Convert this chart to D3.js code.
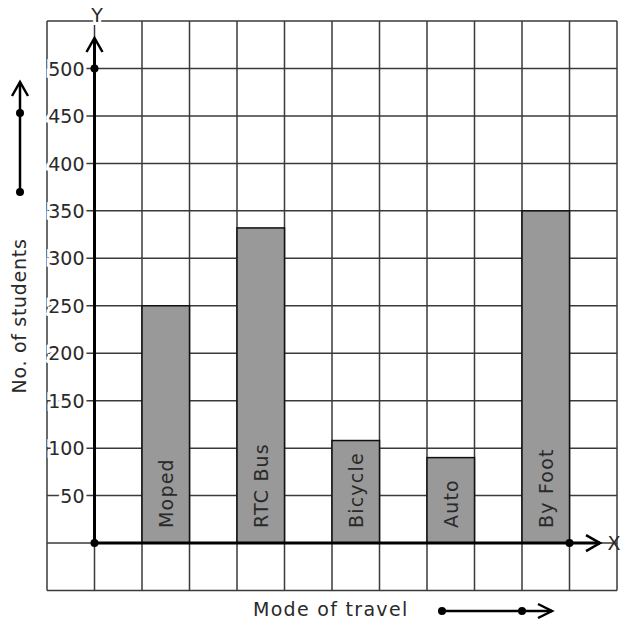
<!DOCTYPE html>
<html><head><meta charset="utf-8">
<script src="https://cdn.jsdelivr.net/npm/d3@7"></script>
<style>body{margin:0;background:#fff}svg{display:block}</style>
</head><body>
<svg id="c" width="621" height="624"></svg>
<script>
const categories = ["Moped", "RTC Bus", "Bicycle", "Auto", "By Foot"];
const students = [250, 332, 108, 90, 350];
const yTicks = [50, 100, 150, 200, 250, 300, 350, 400, 450, 500];
const xTitle = "Mode of travel";
const yTitle = "No. of students";

const svg = d3.select("#c");
const font = "DejaVu Sans, sans-serif";

const y = d3.scaleLinear().domain([-50, 550]).range([590.5, 21]);
const gx = d3.scaleLinear().domain([-1, 11]).range([47, 617]);
const x = d3.scaleBand().domain(categories).range([gx(1), gx(10)]).paddingInner(0.5).paddingOuter(0);

// grid
const gridV = d3.range(-1, 12);
const gridH = d3.range(-50, 551, 50);
svg.append("g").selectAll("line").data(gridV).join("line")
  .attr("x1", d => gx(d)).attr("x2", d => gx(d))
  .attr("y1", y(550)).attr("y2", y(-50))
  .attr("stroke", "#3a3a3a").attr("stroke-width", 1.5);
svg.append("g").selectAll("line").data(gridH).join("line")
  .attr("x1", gx(-1)).attr("x2", gx(11))
  .attr("y1", d => y(d)).attr("y2", d => y(d))
  .attr("stroke", "#3a3a3a").attr("stroke-width", 1.5);

// bars
svg.append("g").selectAll("rect").data(categories).join("rect")
  .attr("x", d => x(d)).attr("width", x.bandwidth())
  .attr("y", (d, i) => y(students[i])).attr("height", (d, i) => y(0) - y(students[i]))
  .attr("fill", "#999999").attr("stroke", "#111").attr("stroke-width", 1.5);

// bar labels
svg.append("g").selectAll("text").data(categories).join("text")
  .attr("transform", d => `translate(${x(d) + x.bandwidth() / 2 + 7},${y(0) - 15}) rotate(-90)`)
  .attr("font-family", font).attr("font-size", 19).attr("letter-spacing", 1.2).attr("fill", "#2a2a2a")
  .text(d => d);

// axes
const yAxis = d3.axisLeft(y).tickValues(yTicks).tickSize(0).tickPadding(10);
const ga = svg.append("g").attr("transform", `translate(${gx(0)},0)`).call(yAxis);
ga.select(".domain").remove();
ga.selectAll("text").attr("font-family", font).attr("font-size", 19).attr("fill", "#2a2a2a")
  .attr("stroke", "#fff").attr("stroke-width", 6).attr("paint-order", "stroke").attr("dy", "0.35em");

// y axis line with arrow
svg.append("line").attr("x1", gx(0)).attr("x2", gx(0)).attr("y1", y(0)).attr("y2", 38)
  .attr("stroke", "#000").attr("stroke-width", 3);
svg.append("path").attr("d", `M${gx(0) - 8},${52} L${gx(0)},${38} L${gx(0) + 8},${52}`)
  .attr("fill", "none").attr("stroke", "#000").attr("stroke-width", 2.5);
// x axis line with arrow
svg.append("line").attr("x1", gx(0)).attr("x2", 600).attr("y1", y(0)).attr("y2", y(0))
  .attr("stroke", "#000").attr("stroke-width", 3);
svg.append("path").attr("d", `M${586},${y(0) - 8} L${600},${y(0)} L${586},${y(0) + 8}`)
  .attr("fill", "none").attr("stroke", "#000").attr("stroke-width", 2.5);
// dots
[[gx(0), y(0)], [gx(0), y(500)], [gx(10), y(0)]].forEach(p =>
  svg.append("circle").attr("cx", p[0]).attr("cy", p[1]).attr("r", 4).attr("fill", "#000"));

// axis letters
svg.append("text").attr("x", 97).attr("y", 22).attr("text-anchor", "middle")
  .attr("font-family", font).attr("font-size", 19).attr("fill", "#2a2a2a")
  .attr("stroke", "#fff").attr("stroke-width", 6).attr("paint-order", "stroke").text("Y");
svg.append("text").attr("x", 614).attr("y", y(0) + 7).attr("text-anchor", "middle")
  .attr("font-family", font).attr("font-size", 19).attr("fill", "#2a2a2a").text("X");

// titles
svg.append("text").attr("x", 253).attr("y", 616)
  .attr("font-family", font).attr("font-size", 19).attr("letter-spacing", 1.3).attr("fill", "#2a2a2a").text(xTitle);
svg.append("text").attr("transform", "translate(26,316) rotate(-90)").attr("text-anchor", "middle")
  .attr("font-family", font).attr("font-size", 19).attr("letter-spacing", 0.7).attr("fill", "#2a2a2a").text(yTitle);

// direction arrows
svg.append("line").attr("x1", 442).attr("x2", 552).attr("y1", 611).attr("y2", 611)
  .attr("stroke", "#000").attr("stroke-width", 2.5);
svg.append("path").attr("d", "M538,604 L552,611 L538,618").attr("fill", "none").attr("stroke", "#000").attr("stroke-width", 2.5);
[442, 522].forEach(cx => svg.append("circle").attr("cx", cx).attr("cy", 611).attr("r", 4).attr("fill", "#000"));

svg.append("line").attr("x1", 20).attr("x2", 20).attr("y1", 192).attr("y2", 82)
  .attr("stroke", "#000").attr("stroke-width", 2.5);
svg.append("path").attr("d", "M12,96 L20,82 L28,96").attr("fill", "none").attr("stroke", "#000").attr("stroke-width", 2.5);
[192, 113].forEach(cy => svg.append("circle").attr("cx", 20).attr("cy", cy).attr("r", 4).attr("fill", "#000"));
</script>
</body></html>
